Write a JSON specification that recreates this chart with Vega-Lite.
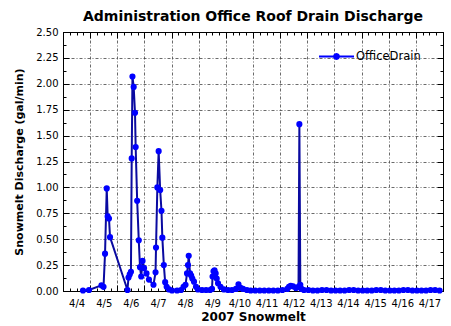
{
  "$schema": "https://vega.github.io/schema/vega-lite/v6.json",
  "width": 380,
  "height": 259,
  "autosize": "none",
  "padding": {"left": 63, "top": 32, "right": 8, "bottom": 35},
  "title": {"text": "Administration Office Roof Drain Discharge", "fontSize": 14, "fontWeight": "bold", "font": "DejaVu Sans", "anchor": "middle", "offset": 3, "color": "#000"},
  "data": {"values": [
    {"time": "2007-04-04T17:40", "flow": 0.005},
    {"time": "2007-04-04T23:00", "flow": 0.01},
    {"time": "2007-04-05T10:00", "flow": 0.055},
    {"time": "2007-04-05T11:50", "flow": 0.04},
    {"time": "2007-04-05T13:10", "flow": 0.36},
    {"time": "2007-04-05T14:40", "flow": 0.99},
    {"time": "2007-04-05T15:30", "flow": 0.72},
    {"time": "2007-04-05T16:40", "flow": 0.70},
    {"time": "2007-04-05T17:35", "flow": 0.52},
    {"time": "2007-04-06T09:00", "flow": 0.01},
    {"time": "2007-04-06T09:55", "flow": 0.13},
    {"time": "2007-04-06T11:00", "flow": 0.16},
    {"time": "2007-04-06T12:05", "flow": 0.185},
    {"time": "2007-04-06T12:45", "flow": 1.28},
    {"time": "2007-04-06T13:25", "flow": 2.07},
    {"time": "2007-04-06T14:30", "flow": 1.97},
    {"time": "2007-04-06T15:40", "flow": 1.72},
    {"time": "2007-04-06T16:15", "flow": 1.39},
    {"time": "2007-04-06T17:35", "flow": 0.87},
    {"time": "2007-04-06T19:00", "flow": 0.49},
    {"time": "2007-04-06T20:05", "flow": 0.23},
    {"time": "2007-04-06T21:10", "flow": 0.14},
    {"time": "2007-04-06T22:20", "flow": 0.29},
    {"time": "2007-04-06T23:40", "flow": 0.22},
    {"time": "2007-04-07T01:50", "flow": 0.17},
    {"time": "2007-04-07T04:00", "flow": 0.11},
    {"time": "2007-04-07T08:00", "flow": 0.06},
    {"time": "2007-04-07T09:50", "flow": 0.18},
    {"time": "2007-04-07T10:15", "flow": 0.42},
    {"time": "2007-04-07T11:25", "flow": 1.0},
    {"time": "2007-04-07T12:35", "flow": 1.35},
    {"time": "2007-04-07T13:55", "flow": 0.975},
    {"time": "2007-04-07T15:05", "flow": 0.775},
    {"time": "2007-04-07T15:50", "flow": 0.515},
    {"time": "2007-04-07T17:10", "flow": 0.25},
    {"time": "2007-04-07T18:20", "flow": 0.085},
    {"time": "2007-04-07T19:40", "flow": 0.04},
    {"time": "2007-04-07T21:45", "flow": 0.015},
    {"time": "2007-04-08T00:25", "flow": 0.005},
    {"time": "2007-04-08T04:50", "flow": 0.005},
    {"time": "2007-04-08T08:20", "flow": 0.01},
    {"time": "2007-04-08T10:35", "flow": 0.04},
    {"time": "2007-04-08T12:20", "flow": 0.06},
    {"time": "2007-04-08T13:40", "flow": 0.17},
    {"time": "2007-04-08T14:30", "flow": 0.25},
    {"time": "2007-04-08T15:10", "flow": 0.34},
    {"time": "2007-04-08T16:20", "flow": 0.17},
    {"time": "2007-04-08T17:20", "flow": 0.15},
    {"time": "2007-04-08T18:20", "flow": 0.12},
    {"time": "2007-04-08T19:50", "flow": 0.09},
    {"time": "2007-04-08T21:35", "flow": 0.04},
    {"time": "2007-04-08T23:20", "flow": 0.015},
    {"time": "2007-04-09T02:55", "flow": 0.01},
    {"time": "2007-04-09T06:30", "flow": 0.01},
    {"time": "2007-04-09T10:00", "flow": 0.01},
    {"time": "2007-04-09T11:45", "flow": 0.02},
    {"time": "2007-04-09T12:15", "flow": 0.14},
    {"time": "2007-04-09T13:05", "flow": 0.19},
    {"time": "2007-04-09T14:00", "flow": 0.20},
    {"time": "2007-04-09T15:00", "flow": 0.17},
    {"time": "2007-04-09T15:55", "flow": 0.12},
    {"time": "2007-04-09T17:05", "flow": 0.075},
    {"time": "2007-04-09T19:15", "flow": 0.04},
    {"time": "2007-04-09T22:20", "flow": 0.015},
    {"time": "2007-04-10T01:55", "flow": 0.01},
    {"time": "2007-04-10T05:25", "flow": 0.01},
    {"time": "2007-04-10T09:00", "flow": 0.02},
    {"time": "2007-04-10T11:10", "flow": 0.065},
    {"time": "2007-04-10T13:00", "flow": 0.03},
    {"time": "2007-04-10T15:10", "flow": 0.02},
    {"time": "2007-04-10T18:40", "flow": 0.01},
    {"time": "2007-04-10T22:00", "flow": 0.005},
    {"time": "2007-04-11T02:00", "flow": 0.005},
    {"time": "2007-04-11T06:00", "flow": 0.005},
    {"time": "2007-04-11T10:00", "flow": 0.005},
    {"time": "2007-04-11T14:00", "flow": 0.005},
    {"time": "2007-04-11T18:00", "flow": 0.005},
    {"time": "2007-04-11T22:00", "flow": 0.005},
    {"time": "2007-04-12T02:00", "flow": 0.01},
    {"time": "2007-04-12T06:20", "flow": 0.02},
    {"time": "2007-04-12T07:50", "flow": 0.04},
    {"time": "2007-04-12T09:20", "flow": 0.05},
    {"time": "2007-04-12T11:25", "flow": 0.045},
    {"time": "2007-04-12T14:00", "flow": 0.03},
    {"time": "2007-04-12T16:15", "flow": 0.04},
    {"time": "2007-04-12T17:00", "flow": 1.61},
    {"time": "2007-04-12T17:50", "flow": 0.06},
    {"time": "2007-04-12T18:55", "flow": 0.02},
    {"time": "2007-04-12T21:05", "flow": 0.01},
    {"time": "2007-04-13T01:00", "flow": 0.01},
    {"time": "2007-04-13T05:00", "flow": 0.005},
    {"time": "2007-04-13T09:00", "flow": 0.005},
    {"time": "2007-04-13T13:00", "flow": 0.01},
    {"time": "2007-04-13T17:00", "flow": 0.01},
    {"time": "2007-04-13T21:00", "flow": 0.005},
    {"time": "2007-04-14T01:00", "flow": 0.005},
    {"time": "2007-04-14T05:00", "flow": 0.005},
    {"time": "2007-04-14T09:00", "flow": 0.005},
    {"time": "2007-04-14T13:00", "flow": 0.01},
    {"time": "2007-04-14T17:00", "flow": 0.01},
    {"time": "2007-04-14T21:00", "flow": 0.005},
    {"time": "2007-04-15T01:00", "flow": 0.005},
    {"time": "2007-04-15T05:00", "flow": 0.005},
    {"time": "2007-04-15T09:00", "flow": 0.005},
    {"time": "2007-04-15T13:00", "flow": 0.01},
    {"time": "2007-04-15T17:00", "flow": 0.01},
    {"time": "2007-04-15T21:00", "flow": 0.005},
    {"time": "2007-04-16T01:00", "flow": 0.005},
    {"time": "2007-04-16T05:00", "flow": 0.005},
    {"time": "2007-04-16T09:00", "flow": 0.005},
    {"time": "2007-04-16T13:00", "flow": 0.01},
    {"time": "2007-04-16T17:00", "flow": 0.01},
    {"time": "2007-04-16T21:00", "flow": 0.005},
    {"time": "2007-04-17T01:00", "flow": 0.005},
    {"time": "2007-04-17T05:00", "flow": 0.005},
    {"time": "2007-04-17T09:00", "flow": 0.005},
    {"time": "2007-04-17T13:00", "flow": 0.01},
    {"time": "2007-04-17T17:00", "flow": 0.01},
    {"time": "2007-04-17T21:00", "flow": 0.005}
  ]},
  "layer": [
    {
      "mark": {"type": "line", "color": "#0A0AA0", "strokeWidth": 2},
      "encoding": {
        "x": {"field": "time", "type": "temporal",
          "scale": {"domain": [{"year": 2007, "month": 4, "date": 4}, {"year": 2007, "month": 4, "date": 18}], "nice": false},
          "axis": {
            "title": "2007 Snowmelt", "titleFontSize": 12, "titleY": 20,
            "tickCount": 56,
            "labelExpr": "hours(datum.value) == 12 ? timeFormat(datum.value, '%-m/%-d') : ''",
            "labelOverlap": false, "labelFlush": false, "labelBound": false,
            "tickSize": {"condition": {"test": "hours(datum.value) == 0", "value": -6}, "value": -3},
            "labelPadding": 10,
            "grid": true,
            "gridOpacity": {"condition": {"test": "hours(datum.value) == 0", "value": 1}, "value": 0}
          }
        },
        "y": {"field": "flow", "type": "quantitative",
          "scale": {"domain": [0, 2.5], "nice": false},
          "axis": {
            "title": "Snowmelt Discharge (gal/min)", "titleFontSize": 11, "titleX": -39, "titleY": 129.5,
            "values": [0, 0.125, 0.25, 0.375, 0.5, 0.625, 0.75, 0.875, 1, 1.125, 1.25, 1.375, 1.5, 1.625, 1.75, 1.875, 2, 2.125, 2.25, 2.375, 2.5],
            "labelExpr": "(datum.value * 8) % 2 == 0 ? format(datum.value, '.2f') : ''",
            "labelOverlap": false, "labelFlush": false, "labelBound": false,
            "tickSize": {"condition": {"test": "(datum.value * 8) % 2 == 0", "value": -6}, "value": -3},
            "labelPadding": 11,
            "grid": true,
            "gridOpacity": {"condition": {"test": "(datum.value * 8) % 2 == 0", "value": 1}, "value": 0}
          }
        }
      }
    },
    {
      "mark": {"type": "point", "filled": true, "size": 38, "opacity": 1},
      "encoding": {
        "x": {"field": "time", "type": "temporal",
          "axis": {
            "orient": "top", "title": null, "labels": false, "grid": false,
            "tickCount": 56,
            "tickSize": {"condition": {"test": "hours(datum.value) == 0", "value": -6}, "value": -3}
          }
        },
        "y": {"field": "flow", "type": "quantitative",
          "axis": {
            "orient": "right", "title": null, "labels": false, "grid": false,
            "values": [0, 0.125, 0.25, 0.375, 0.5, 0.625, 0.75, 0.875, 1, 1.125, 1.25, 1.375, 1.5, 1.625, 1.75, 1.875, 2, 2.125, 2.25, 2.375, 2.5],
            "tickSize": {"condition": {"test": "(datum.value * 8) % 2 == 0", "value": -6}, "value": -3}
          }
        },
        "color": {"datum": "OfficeDrain", "type": "nominal",
          "scale": {"range": ["#0000FF"]},
          "legend": {"title": null, "orient": "none", "legendX": 256, "legendY": 7, "padding": 0,
            "symbolType": "M-1,-0.06L1,-0.06L1,0.06L-1,0.06Z M0.2,0L0.173,0.1L0.1,0.173L0,0.2L-0.1,0.173L-0.173,0.1L-0.2,0L-0.173,-0.1L-0.1,-0.173L0,-0.2L0.1,-0.173L0.173,-0.1Z",
            "symbolSize": 1225, "symbolStrokeWidth": 0, "labelFontSize": 11.5, "labelFont": "DejaVu Sans", "labelColor": "#000", "labelOffset": 2}
        }
      }
    }
  ],
  "resolve": {"axis": {"x": "independent", "y": "independent"}},
  "config": {
    "font": "DejaVu Sans",
    "view": {"stroke": "#000", "strokeWidth": 1},
    "axis": {"domainColor": "#000", "tickColor": "#000", "gridColor": "#444", "gridDash": [3, 2, 1, 2], "gridWidth": 0.8,
      "labelFont": "DejaVu Sans", "labelFontSize": 10, "labelColor": "#000",
      "titleFont": "DejaVu Sans", "titleFontWeight": "bold", "titleColor": "#000"}
  }
}
